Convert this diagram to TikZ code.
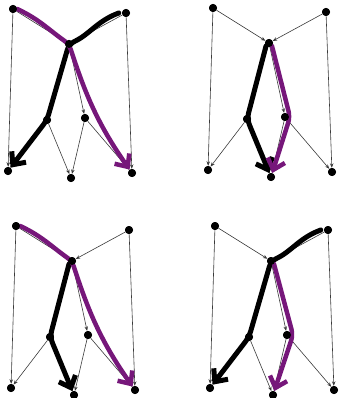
\documentclass[tikz,border=0pt]{standalone}
\usepackage{xcolor}
\usepackage{tikz}
\usetikzlibrary{arrows.meta}
\definecolor{walkPurple}{HTML}{76177A}
\definecolor{edgeGray}{HTML}{3A3A3A}

\begin{document}
\begin{tikzpicture}[x=1pt, y=-1pt,
    vertex/.style={circle, fill=black, inner sep=0pt, minimum size=8pt},
    thin edge/.style={-{Stealth[length=4.5pt, width=3.5pt]}, edgeGray, line width=0.6pt},
    black walk/.style={-{Straight Barb[length=10pt, width=18pt]}, line width=5pt, line cap=round, line join=round, rounded corners=6pt},
    purple walk/.style={black walk, walkPurple, line width=4.5pt}]
    \useasboundingbox (0,0) rectangle (339,398);
    % the same graph four times
    \foreach \p/\dx/\dy in {1/0/0, 2/200/-1, 3/3/217, 4/202/217} {
        \begin{scope}[shift={(\dx,\dy)}]
            \node[vertex] (p\p-tl) at (13,9) {};
            \node[vertex] (p\p-tr) at (126,13) {};
            \node[vertex] (p\p-c) at (69,44) {};
            \node[vertex] (p\p-ml) at (47,120) {};
            \node[vertex] (p\p-mr) at (85,118) {};
            \node[vertex] (p\p-bl) at (8,171) {};
            \node[vertex] (p\p-bc) at (71,178) {};
            \node[vertex] (p\p-br) at (132,173) {};
            \draw[thin edge] (p\p-tl) -- (p\p-bl);
            \draw[thin edge] (p\p-tr) -- (p\p-br);
            \draw[thin edge] (p\p-tl) -- (p\p-c);
            \draw[thin edge] (p\p-tr) -- (p\p-c);
            \draw[thin edge] (p\p-c) -- (p\p-ml);
            \draw[thin edge] (p\p-c) -- (p\p-mr);
            \draw[thin edge] (p\p-ml) -- (p\p-bl);
            \draw[thin edge] (p\p-ml) -- (p\p-bc);
            \draw[thin edge] (p\p-mr) -- (p\p-bc);
            \draw[thin edge] (p\p-mr) -- (p\p-br);
        \end{scope}
    }
    % walks
    \draw[black walk] ([xshift=-3pt]p1-tr.west) to[out=200, in=25] (p1-c.center) -- (p1-ml.center) -- (p1-bl);
    \draw[purple walk] (p1-tl.east) to[out=-25, in=145] (p1-c.center) to[out=-72, in=125] (p1-br);
    \draw[black walk] (p2-c.south west) -- (p2-ml.center) -- (p2-bc);
    \draw[purple walk] (p2-c.south east) -- ([xshift=5pt]p2-mr.center) -- (p2-bc);
    \draw[black walk] (p3-c.south west) -- (p3-ml.center) -- (p3-bc);
    \draw[purple walk] (p3-tl.east) to[out=-25, in=145] (p3-c.center) to[out=-72, in=125] (p3-br);
    \draw[black walk] ([xshift=-3pt]p4-tr.west) to[out=200, in=25] (p4-c.center) -- (p4-ml.center) -- (p4-bl);
    \draw[purple walk] (p4-c.south east) -- ([xshift=6pt]p4-mr.center) -- (p4-bc);
    % dots on top
    \foreach \p in {1,2,3,4}
        \foreach \v in {tl,tr,c,ml,mr,bl,bc,br}
            \fill (p\p-\v) circle (4pt);
\end{tikzpicture}
\end{document}
